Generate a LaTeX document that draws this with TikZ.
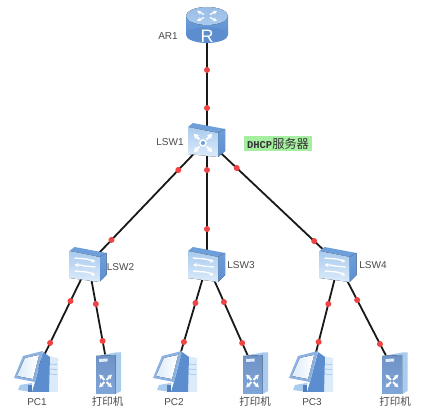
\documentclass[tikz,border=0pt]{standalone}
\usepackage{fontspec}
\usetikzlibrary{arrows.meta}
\setmainfont{Liberation Sans}
\newfontfamily\cjk{Noto Sans CJK SC}
\newfontfamily\monoface{Liberation Mono}
\definecolor{lbl}{HTML}{4A4A4A}
\definecolor{dotred}{HTML}{F04444}
\definecolor{hi}{HTML}{A6EFA0}
\definecolor{bluemid}{HTML}{6E9FDB}
\definecolor{bluedark}{HTML}{5C8ECF}
\definecolor{bluelight}{HTML}{DCEBFA}
\definecolor{bluepale}{HTML}{A9CBEE}
\definecolor{srvtop}{HTML}{6F92C4}
\definecolor{srvbot}{HTML}{7FA6DA}
\tikzset{
  anchorpt/.style={inner sep=0pt,minimum size=2pt},
  devlabel/.style={inner sep=0pt,text=lbl,font=\fontsize{10}{12}\selectfont},
  cnlabel/.style={inner sep=0pt,text=lbl,font=\cjk\fontsize{10.5}{12}\selectfont},
  wire/.style={draw=black!90,line width=1.8pt},
  dot/.style={circle,fill=dotred,draw=none,inner sep=0pt,minimum size=6pt},
  router/.pic={
    \fill[top color=bluemid,bottom color=bluedark] (-21,-9) rectangle (21,10);
    \fill[bluedark] (0,10) ellipse[x radius=21,y radius=8];
    \fill[top color=bluemid!70!white,bottom color=bluepale] (0,-9) ellipse[x radius=21,y radius=9];
    \foreach \a in {0,90,180,270}{
      \draw[white,line width=1.2pt,shift={(0,-9)},yscale=.5,rotate=\a,-{Stealth[length=4pt,width=4pt]}] (3,3) -- (10,10);
    }
    \node[inner sep=0pt,text=white,font=\fontsize{18}{18}\selectfont] (rglyph) at (0,11.5) {R};
  },
  coreswitch/.pic={
    \fill[bluemid] (-19,-13) -- (-14,-17) -- (18,-11) -- (11,-7) -- cycle;
    \fill[top color=bluemid,bottom color=bluedark] (11,-7) -- (18,-11) -- (18,11) -- (11,17) -- cycle;
    \fill[top color=bluepale,bottom color=bluelight] (-19,-13) -- (11,-7) -- (11,17) -- (-19,14) -- cycle;
    \foreach \a in {45,135,225,315}{
      \draw[white,line width=2pt,shift={(-4,3)},rotate=\a,-{Stealth[length=5pt,width=6pt]}] (5,0) -- (13,0);
    }
    \draw[white,line width=1.5pt,fill=bluemid] (-4,3) circle[radius=3];
  },
  l2switch/.pic={
    \fill[bluemid] (-19,-13) -- (-14,-17) -- (18,-11) -- (11,-7) -- cycle;
    \fill[top color=bluemid,bottom color=bluedark] (11,-7) -- (18,-11) -- (18,11) -- (11,18) -- cycle;
    \fill[top color=bluepale,bottom color=bluelight] (-19,-13) -- (11,-7) -- (11,18) -- (-19,14) -- cycle;
    \draw[white,line width=1.3pt,-{Stealth[length=4pt,width=4pt]}] (-14,-6) -- (-2,-5) .. controls (3,-4) and (3,-3) .. (7,-3);
    \draw[white,line width=1.3pt,-{Stealth[length=4pt,width=4pt]}] (7,3) -- (-4,2) .. controls (-8,1) and (-9,1) .. (-14,1);
    \draw[white,line width=1.3pt,-{Stealth[length=4pt,width=4pt]}] (-14,7) -- (-2,8) .. controls (3,9) and (3,10) .. (7,11);
  },
  pcicon/.pic={
    \fill[bluelight] (6.7,-17) -- (22,-14) -- (22,20) -- (0,20) -- cycle;
    \foreach \y in {-8,-3,2}{\draw[bluepale,line width=.8pt] (14,\y) -- (21,\y+.6);}
    \fill[bluedark] (7,-20) -- (14,-15) -- (13,20) -- (-4,20) -- (-1,10) -- cycle;
    \fill[bluepale] (-16,13) -- (-4,11) -- (-4,20) -- (-18,18) -- cycle;
    \fill[bluedark!90!black] (-8,13) -- (-4,13) -- (-4,20) -- (-8,20) -- cycle;
    \fill[bluemid!80] (-22,6) -- (-13,-16) -- (7,-21) -- (-1,10) -- cycle;
    \fill[left color=bluelight,right color=white] (-19,4) -- (-11,-14) -- (3,-17) -- (-3,7) -- cycle;
  },
  servericon/.pic={
    \fill[bluepale] (-12.5,-17) -- (7,-20.5) -- (12.5,-20.5) -- (7,-17) -- cycle;
    \fill[bluepale] (7,-18) -- (12.5,-20.5) -- (12.5,18) -- (7,21) -- cycle;
    \fill[top color=srvtop,bottom color=srvbot] (-12.5,-17) -- (7,-18) -- (7,21) -- (-12.5,21) -- cycle;
    \fill[bluelight] (-9.5,-14) -- (-1,-14.5) -- (-1,-11.5) -- (-9.5,-11) -- cycle;
    \foreach \a in {45,135,225,315}{
      \draw[white,line width=1.8pt,shift={(-3,8)},rotate=\a,-{Stealth[length=4.5pt,width=5pt]}] (1.5,0) -- (9,0);
    }
  }
}
\begin{document}
\begin{tikzpicture}[x=1pt,y=-1pt]
\useasboundingbox (0,0) rectangle (429,414);
\fill[white] (0,0) rectangle (429,414);
% device anchors
\node[anchorpt] (ar) at (207,25) {};
\node[anchorpt] (sw1) at (207,140) {};
\node[anchorpt] (sw2) at (88.5,264) {};
\node[anchorpt] (sw3) at (207,264) {};
\node[anchorpt] (sw4) at (338.5,264) {};
\node[anchorpt] (pc1) at (36,372) {};
\node[anchorpt] (pc2) at (175,372) {};
\node[anchorpt] (pc3) at (311,372) {};
\node[anchorpt] (pr1) at (108.5,373) {};
\node[anchorpt] (pr2) at (255.5,373) {};
\node[anchorpt] (pr3) at (395,373) {};
% connectors
\draw[wire] (ar.center) -- node[pos=.391,dot]{} node[pos=.722,dot]{} (sw1.center);
\draw[wire] (sw1.center) -- node[pos=.242,dot]{} node[pos=.806,dot]{} (sw2.center);
\draw[wire] (sw1.center) -- node[pos=.242,dot]{} node[pos=.718,dot]{} (sw3.center);
\draw[wire] (sw1.center) -- node[pos=.226,dot]{} node[pos=.815,dot]{} (sw4.center);
\draw[wire] (sw2.center) -- node[pos=.343,dot]{} node[pos=.731,dot]{} (pc1.center);
\draw[wire] (sw2.center) -- node[pos=.367,dot]{} node[pos=.706,dot]{} (pr1.center);
\draw[wire] (sw3.center) -- node[pos=.361,dot]{} node[pos=.722,dot]{} (pc2.center);
\draw[wire] (sw3.center) -- node[pos=.349,dot]{} node[pos=.725,dot]{} (pr2.center);
\draw[wire] (sw4.center) -- node[pos=.370,dot]{} node[pos=.722,dot]{} (pc3.center);
\draw[wire] (sw4.center) -- node[pos=.330,dot]{} node[pos=.734,dot]{} (pr3.center);
% icons
\pic at (ar) {router};
\pic at (sw1) {coreswitch};
\pic at (sw2) {l2switch};
\pic at (sw3) {l2switch};
\pic at (sw4) {l2switch};
\pic at (pc1) {pcicon};
\pic at (pc2) {pcicon};
\pic at (pc3) {pcicon};
\pic at (pr1) {servericon};
\pic at (pr2) {servericon};
\pic at (pr3) {servericon};
% labels
\node[devlabel] (lar) at (168,36) {AR1};
\node[devlabel] (l1) at (170,142) {LSW1};
\node[devlabel] (l2) at (120.5,267) {LSW2};
\node[devlabel] (l3) at (241,265) {LSW3};
\node[devlabel] (l4) at (373,265) {LSW4};
\node[devlabel] (lp1) at (37,402) {PC1};
\node[devlabel] (lp2) at (174,402) {PC2};
\node[devlabel] (lp3) at (312,402) {PC3};
\node[cnlabel] (lr1) at (107.5,402) {打印机};
\node[cnlabel] (lr2) at (255,402) {打印机};
\node[cnlabel] (lr3) at (395,402) {打印机};
\node[fill=hi,inner sep=0pt,minimum width=68pt,minimum height=15pt,text=black!80] (dhcp) at (278,143.5) {\monoface\bfseries\fontsize{10.5}{12}\selectfont DHCP\cjk\mdseries\fontsize{12.2}{12}\selectfont 服务器};
\end{tikzpicture}
\end{document}
